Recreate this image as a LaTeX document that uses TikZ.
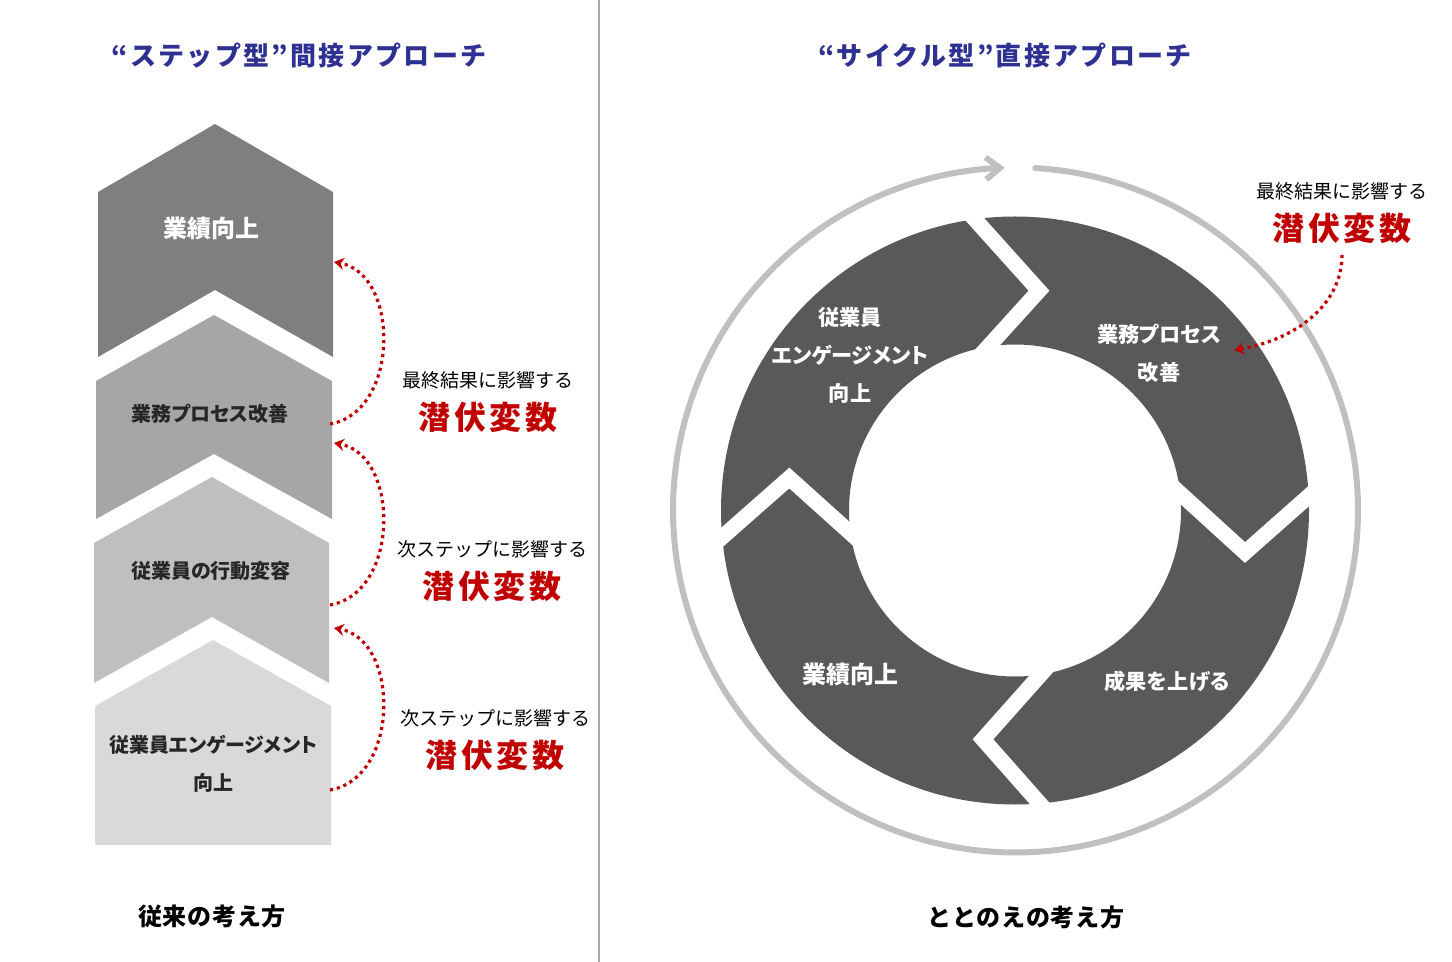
\documentclass[tikz,border=0pt]{standalone}
\usepackage{fontspec}
\setmainfont{Noto Sans CJK JP}
\newfontfamily\jpp[RawFeature=+palt]{Noto Sans CJK JP}
\usetikzlibrary{arrows.meta}
\definecolor{navy}{RGB}{46,49,146}
\definecolor{redv}{RGB}{192,0,0}
\definecolor{ringdark}{RGB}{89,89,89}
\definecolor{ringgray}{RGB}{192,192,192}
\definecolor{chevA}{RGB}{127,127,127}
\definecolor{chevB}{RGB}{166,166,166}
\definecolor{chevC}{RGB}{191,191,191}
\definecolor{chevD}{RGB}{217,217,217}
\definecolor{txtdark}{RGB}{38,38,38}
\definecolor{divider}{RGB}{170,170,170}
\begin{document}
\begin{tikzpicture}[x=0.5pt,y=-0.5pt,
  every node/.style={inner sep=0pt, outer sep=0pt, anchor=center},
  titletxt/.style={text=navy, font=\bfseries\fontsize{13}{15}\selectfont\addfontfeatures{LetterSpace=9}},
  boxtxt/.style={text=txtdark, font=\jpp\bfseries\fontsize{10}{12}\selectfont},
  bigbox/.style={text=white, font=\jpp\bfseries\fontsize{12}{14}\selectfont},
  ringtxt/.style={text=white, font=\jpp\bfseries\fontsize{10.6}{13}\selectfont},
  ringbig/.style={text=white, font=\jpp\bfseries\fontsize{12}{14}\selectfont},
  smalllbl/.style={text=black, font=\fontsize{9.5}{11}\selectfont},
  latent/.style={text=redv, font=\bfseries\fontsize{16}{18}\selectfont\addfontfeatures{LetterSpace=12}},
  footer/.style={text=black, font=\bfseries\fontsize{12}{14}\selectfont\addfontfeatures{LetterSpace=3}},
  dotarrow/.style={draw=redv, line width=1.6pt, dash pattern=on 1.6pt off 1.9pt,
     -{Stealth[length=5pt,width=6pt,fill=redv]}},
  gapline/.style={draw=white, line width=7.75pt, miter limit=10, line join=miter},
]
\useasboundingbox (0,0) rectangle (1452,962);

% divider
\draw[divider, line width=1pt] (599,0) -- (599,962);

% titles
\node[titletxt] (tL) at (299,56) {“ステップ型”間接アプローチ};
\node[titletxt] (tR) at (1005,56) {“サイクル型”直接アプローチ};

% left chevrons
\fill[chevA] (215,124) -- (333,192) -- (333,357) -- (215,290) -- (98,357) -- (98,192) -- cycle;
\fill[chevB] (214,315) -- (332,381) -- (332,519) -- (214,454) -- (96,519) -- (96,381) -- cycle;
\fill[chevC] (212,477) -- (329,543) -- (329,683) -- (212,617) -- (94,683) -- (94,543) -- cycle;
\fill[chevD] (213,640) -- (331,706) -- (331,845) -- (95,845) -- (95,706) -- cycle;

\node[bigbox] (b1) at (211,228) {業績向上};
\node[boxtxt] (b2) at (210,414) {業務プロセス改善};
\node[boxtxt] (b3) at (211,571) {従業員の行動変容};
\node[boxtxt] (b4a) at (213,745) {従業員エンゲージメント};
\node[boxtxt] (b4b) at (213,783) {向上};

% left dotted arrows
\coordinate (a1s) at (330,424); \coordinate (a1e) at (334,262);
\coordinate (a2s) at (330,605); \coordinate (a2e) at (334,443);
\coordinate (a3s) at (330,790); \coordinate (a3e) at (334,628);
\draw[dotarrow] (a1s) .. controls (400,412) and (400,274) .. (a1e);
\draw[dotarrow] (a2s) .. controls (400,593) and (400,455) .. (a2e);
\draw[dotarrow] (a3s) .. controls (400,778) and (400,640) .. (a3e);

% left labels
\node[smalllbl] (l1a) at (488,380) {最終結果に影響する};
\node[latent] (l1b) at (488,417) {潜伏変数};
\node[smalllbl] (l2a) at (492,549) {次ステップに影響する};
\node[latent] (l2b) at (492,586) {潜伏変数};
\node[smalllbl] (l3a) at (495,718) {次ステップに影響する};
\node[latent] (l3b) at (495,755) {潜伏変数};

\node[footer] (fL) at (212,916) {従来の考え方};

% right: outer gray cycle arrow
\draw[ringgray, line width=3pt, line cap=round, -{Straight Barb[length=7pt,width=11pt]}]
  plot[domain=-86.7:268.2, samples=400] ({1015.5+342.5*cos(\x)},{510+342.5*sin(\x)});

% dark ring
\fill[ringdark, even odd rule] (1015,510.5) circle[radius=294] (1015,510.5) circle[radius=166];

% chevron gaps
\draw[gapline] (965.4,208.8) -- (1039,290.7) -- (979.8,356);
\draw[gapline] (1319,487) -- (1245,552.5) -- (1172,486);
\draw[gapline] (1050,664) -- (983,739.3) -- (1049,814);
\draw[gapline] (859,540.7) -- (789.3,478) -- (711,547);

% ring texts
\node[ringtxt] (r1a) at (850,317) {従業員};
\node[ringtxt] (r1b) at (850,355) {エンゲージメント};
\node[ringtxt] (r1c) at (850,393) {向上};
\node[ringtxt] (r2a) at (1159,334) {業務プロセス};
\node[ringtxt] (r2b) at (1159,372) {改善};
\node[ringbig] (r3) at (850,674) {業績向上};
\node[ringtxt] (r4) at (1167,681) {成果を上げる};

% right annotation
\node[smalllbl] (rla) at (1342,191) {最終結果に影響する};
\node[latent] (rlb) at (1342,228) {潜伏変数};
\coordinate (ras) at (1342,255);
\coordinate (rae) at (1234,350);
\draw[dotarrow] (ras) .. controls (1342,305) and (1295,340) .. (rae);

\node[footer] (fR) at (1026,917) {ととのえの考え方};
\end{tikzpicture}
\end{document}
